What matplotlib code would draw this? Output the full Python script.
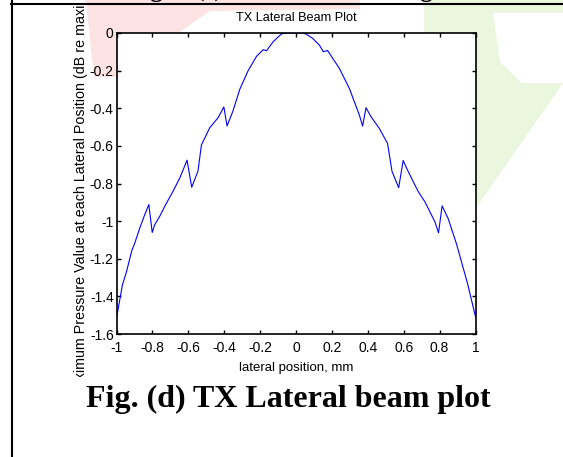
import matplotlib
matplotlib.use('Agg')
import matplotlib.pyplot as plt
from matplotlib import font_manager
from matplotlib.patches import Polygon
from matplotlib.lines import Line2D
from matplotlib.transforms import Bbox, TransformedBbox

# lateral beam profile (mm, dB re maximum)
lateral_pos = [-1.000, -0.985, -0.967, -0.944, -0.916, -0.898, -0.870, -0.846,
               -0.820, -0.801, -0.787, -0.759, -0.731, -0.685, -0.647, -0.607,
               -0.581, -0.546, -0.527, -0.480, -0.434, -0.402, -0.384, -0.351,
               -0.313, -0.267, -0.220, -0.183, -0.164, -0.127, -0.081, -0.053,
               0.035, 0.055, 0.092, 0.130, 0.152, 0.176, 0.204, 0.241,
               0.297, 0.325, 0.353, 0.371, 0.390, 0.418, 0.464, 0.510,
               0.535, 0.572, 0.597, 0.625, 0.653, 0.681, 0.718, 0.774,
               0.794, 0.814, 0.848, 0.894, 0.928, 0.959, 0.969, 1.000]
pressure_db = [-1.516, -1.436, -1.339, -1.268, -1.161, -1.116, -1.036, -0.974,
               -0.912, -1.060, -1.019, -0.974, -0.921, -0.841, -0.770, -0.676,
               -0.820, -0.734, -0.595, -0.503, -0.450, -0.393, -0.494, -0.414,
               -0.299, -0.201, -0.124, -0.089, -0.094, -0.046, -0.005, 0.000,
               0.000, -0.005, -0.028, -0.064, -0.099, -0.093, -0.134, -0.187,
               -0.294, -0.365, -0.436, -0.495, -0.397, -0.445, -0.507, -0.587,
               -0.736, -0.822, -0.678, -0.736, -0.790, -0.843, -0.897, -1.004,
               -1.062, -0.919, -0.987, -1.121, -1.237, -1.344, -1.385, -1.508]

x_ticks = [-1, -0.8, -0.6, -0.4, -0.2, 0, 0.2, 0.4, 0.6, 0.8, 1]
x_tick_labels = ['-1', '-0.8', '-0.6', '-0.4', '-0.2', '0', '0.2', '0.4', '0.6', '0.8', '1']
y_ticks = [0, -0.2, -0.4, -0.6, -0.8, -1, -1.2, -1.4, -1.6]
y_tick_labels = ['0', '-0.2', '-0.4', '-0.6', '-0.8', '-1', '-1.2', '-1.4', '-1.6']

plot_title = 'TX Lateral Beam Plot'
x_label = 'lateral position, mm'
y_label = 'Maximum Pressure Value at each Lateral Position (dB re maximum)'
caption = 'Fig. (d) TX Lateral beam plot'
prev_caption_words = ['Fig.', '(c)', 'TX', 'Beam', 'Focusing']

W, H = 563, 457


def fx(px):
    return px / W


def fy(py):
    return 1 - py / H


names = {f.name for f in font_manager.fontManager.ttflist}
narrow = 'Liberation Sans Narrow' if 'Liberation Sans Narrow' in names else 'Liberation Sans'

fig = plt.figure(figsize=(W / 100, H / 100), dpi=100)
fig.patch.set_facecolor('white')

# faint journal watermark behind the figure
pink = '#fde3e3'
green = '#ebf6df'
wm_pink = [(86, 0), (360, 0), (360, 9), (210, 11), (178, 33), (118, 33),
           (118, 77), (94, 77), (90, 40)]
wm_green = [(424, 0), (563, 0), (563, 83), (476, 208), (470, 33), (424, 33)]
wm_hole = [(493, 13), (563, 13), (563, 83), (522, 83), (500, 62)]
for pts, col in [(wm_pink, pink), (wm_green, green), (wm_hole, 'white')]:
    fig.add_artist(Polygon([(fx(a), fy(b)) for a, b in pts], closed=True,
                           facecolor=col, edgecolor='none',
                           transform=fig.transFigure, zorder=-2))

ax = fig.add_axes([fx(116.5), fy(334), fx(475.5) - fx(116.5), fy(33) - fy(334)])
ax.plot(lateral_pos, pressure_db, color='#0000ff', lw=0.8)
ax.set_xlim(-1, 1)
ax.set_ylim(-1.6, 0)
ax.set_xticks(x_ticks)
ax.set_xticklabels(x_tick_labels)
ax.set_yticks(y_ticks)
ax.set_yticklabels(y_tick_labels)
ax.tick_params(direction='in', top=True, right=True, length=3, width=1,
               labelsize=10)
ax.tick_params(axis='x', pad=5)
ax.tick_params(axis='y', pad=2)
for lbl in ax.get_xticklabels() + ax.get_yticklabels():
    lbl.set_family(narrow)
for s in ax.spines.values():
    s.set_linewidth(1.2)

fig.text(fx(296), fy(18), plot_title, ha='center', va='center',
         fontsize=9.2, family=narrow)
fig.text(fx(296), fy(367.5), x_label, ha='center', va='center',
         fontsize=9.5, family=narrow)

# y label is longer than the image it sat in, so both ends are cut off
clip = TransformedBbox(Bbox.from_extents(0, fy(377), 1, fy(4)), fig.transFigure)
yl = fig.text(fx(81), fy(184), y_label, rotation=90, ha='center', va='center',
              fontsize=10.3, family='Liberation Sans')
yl.set_clip_box(clip)
yl.set_clip_on(True)

fig.text(fx(86), fy(407), caption, ha='left', va='baseline', fontsize=23,
         family='Liberation Serif', weight='bold')

# previous caption line, only descenders peek in at the top
for word, px in zip(prev_caption_words, [129, 196, 232, 273, 338]):
    fig.text(fx(px), fy(-3), word, ha='left', va='baseline', fontsize=18,
             family='Liberation Serif', weight='bold')

fig.add_artist(Line2D([fx(12), fx(12)], [0, 1], color='black', lw=1.5,
                      transform=fig.transFigure, zorder=5))
fig.add_artist(Line2D([fx(11), 1], [fy(4), fy(4)], color='black', lw=1.5,
                      transform=fig.transFigure, zorder=5))

fig.savefig('out.png', dpi=100)
